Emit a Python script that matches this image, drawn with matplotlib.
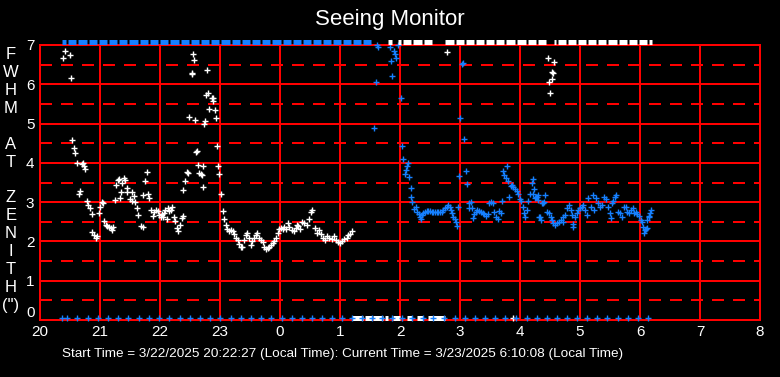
import matplotlib
matplotlib.use("Agg")
import matplotlib.pyplot as plt

plt.rcParams['font.family'] = ['Liberation Sans', 'DejaVu Sans']
plt.rcParams['lines.scale_dashes'] = False

# times are minutes after 20:00 local time, FWHM in arcsec
white_t = [23.3, 25.3, 30.3, 31.0, 32.3, 34.0, 35.3, 36.7, 39.0, 40.3, 41.7, 42.7, 44.0, 45.0,
           46.7, 48.3, 50.3, 51.7, 52.3, 54.3, 55.7, 57.3, 59.3, 60.3, 62.0, 63.3, 64.3, 65.7,
           66.7, 68.7, 71.0, 72.3, 72.7, 75.0, 76.0, 77.7, 79.0, 80.3, 81.3, 82.3, 84.0, 85.3,
           86.7, 87.3, 90.0, 91.7, 92.0, 94.0, 95.0, 96.7, 98.3, 101.0, 102.7, 103.3, 105.0,
           106.7, 107.7, 109.0, 111.0, 112.7, 113.7, 116.0, 117.7, 119.0, 120.7, 121.7, 122.7,
           124.0, 125.3, 126.7, 128.3, 129.3, 130.7, 132.3, 134.0, 135.0, 136.7, 138.3, 140.3,
           141.7, 142.7, 143.3, 145.3, 146.7, 148.3, 149.3, 151.7, 152.3, 153.3, 154.3, 155.3,
           156.3, 157.3, 158.3, 159.3, 161.0, 161.7, 162.7, 163.3, 164.3, 165.3, 166.0, 167.3,
           168.3, 169.3, 171.7, 172.7, 173.3, 175.3, 176.3, 177.3, 178.3, 179.3, 181.3, 182.7,
           184.3, 185.7, 187.3, 189.0, 191.0, 192.7, 194.3, 196.0, 197.7, 199.0, 200.7, 202.3,
           204.0, 205.7, 207.3, 209.0, 210.7, 212.3, 214.0, 215.7, 217.3, 219.0, 220.7, 222.7,
           224.3, 226.0, 227.7, 229.3, 231.0, 232.7, 234.3, 236.0, 237.7, 239.3, 241.0, 242.7,
           244.3, 246.0, 247.7, 249.3, 251.7, 254.0, 256.0, 257.3, 258.3, 260.0, 262.3, 264.3,
           266.7, 268.7, 271.0, 271.7, 275.0, 277.3, 279.3, 281.0, 283.3, 285.0, 287.3, 289.3,
           291.7, 294.0, 296.0, 297.7, 300.0, 302.3, 304.3, 306.7, 308.3, 310.0, 311.7,
           406.7, 508.3, 509.3, 510.3, 511.7, 512.3, 513.3, 514.3]
white_fwhm = [6.66, 6.84, 6.74, 6.15, 4.58, 4.37, 4.26, 3.99, 3.22, 3.29, 3.97, 4.00, 3.92, 3.84,
              3.04, 2.93, 2.84, 2.70, 2.25, 2.16, 2.08, 2.15, 2.72, 2.88, 3.01, 2.97, 2.53, 2.42,
              2.39, 2.36, 2.33, 2.29, 2.37, 3.05, 3.44, 3.56, 3.58, 3.10, 3.25, 3.49, 3.62, 3.56,
              3.35, 3.27, 3.07, 3.27, 3.03, 3.16, 3.01, 2.84, 2.67, 2.39, 2.37, 3.18, 3.55,
              3.76, 3.20, 3.10, 2.80, 2.65, 2.76, 2.80, 2.77, 2.67, 2.63, 2.70, 2.63,
              2.73, 2.80, 2.56, 2.84, 2.78, 2.80, 2.88, 2.63, 2.52, 2.33, 2.27, 2.43,
              2.60, 2.65, 3.31, 3.55, 3.78, 3.73, 5.18, 6.25, 6.30, 6.76, 6.63, 5.08,
              4.27, 4.31, 3.94, 3.73, 3.71, 3.68, 3.39, 3.91, 4.98, 5.06, 5.74, 6.36,
              5.79, 5.36, 5.64, 5.57, 5.64, 5.34, 5.13, 4.42, 3.91, 3.71, 3.22, 2.77,
              2.56, 2.42, 2.31, 2.27, 2.29, 2.27, 2.19, 2.10, 2.04, 1.93, 1.87, 1.85,
              2.04, 2.16, 2.21, 2.08, 1.91, 2.02, 2.10, 2.16, 2.22, 2.10, 2.04, 1.99,
              1.87, 1.81, 1.84, 1.87, 1.91, 1.97, 2.02, 2.10, 2.22, 2.31, 2.33, 2.32,
              2.36, 2.31, 2.48, 2.36, 2.29, 2.27, 2.33, 2.42, 2.39, 2.31, 2.50, 2.46,
              2.42, 2.56, 2.75, 2.80, 2.33, 2.21, 2.28, 2.18, 2.10, 2.04, 2.14, 2.10,
              2.05, 2.14, 2.04, 1.99, 1.97, 2.02, 2.05, 2.10, 2.16, 2.19, 2.27,
              6.81, 6.66, 6.05, 5.79, 6.13, 6.32, 6.29, 6.56]

blue_t = [334.3, 335.7, 336.7, 338.0, 350.3, 351.0, 352.3, 354.3, 355.3, 356.3, 357.7, 361.3,
          362.3, 363.3, 365.3, 366.3, 367.3, 368.3, 369.3, 370.7, 371.3, 372.3, 374.0, 376.0,
          377.3, 379.0, 380.0, 381.0, 382.0, 383.3, 385.0, 386.7, 388.3, 390.0, 391.7, 393.3,
          395.0, 396.7, 398.3, 400.0, 401.7, 403.3, 405.0, 406.7, 408.3, 410.0, 411.3, 412.3,
          413.3, 415.0, 416.0, 417.3, 418.3, 419.0, 420.3, 421.7, 423.3, 424.3, 426.0, 427.3,
          428.7, 429.3, 430.7, 431.7, 432.7, 434.0, 435.7, 437.3, 439.3, 441.0, 442.7, 444.3,
          446.0, 447.7, 449.3, 451.0, 452.7, 454.3, 456.0, 457.7, 459.3, 460.7, 461.7, 463.3,
          464.3, 465.7, 467.3, 468.3, 469.3, 470.7, 472.0, 473.3, 475.0, 476.7, 478.3, 480.0,
          481.0, 482.7, 484.0, 485.0, 487.3, 488.3, 490.0, 491.7, 492.7, 493.3, 494.0, 495.0,
          495.7, 497.3, 497.7, 498.3, 499.3, 500.0, 500.7, 501.7, 502.7, 504.0, 505.0, 507.3,
          509.3, 510.7, 512.0, 513.3, 514.7, 516.7, 518.7, 520.7, 522.7, 523.3, 525.3, 526.7,
          528.7, 530.7, 531.7, 532.7, 533.3, 535.3, 536.7, 538.3, 540.0, 541.7, 543.3, 545.0,
          546.7, 548.3, 550.7, 552.7, 554.3, 556.0, 558.3, 560.0, 561.7, 564.0, 566.0, 568.3,
          570.0, 570.7, 571.7, 573.3, 575.0, 576.0, 578.3, 580.0, 582.3, 584.0, 585.7, 587.3,
          589.3, 591.0, 592.7, 594.0, 596.0, 597.3, 599.3, 600.7, 601.7, 603.3, 604.3, 605.0,
          606.0, 606.7, 607.3, 609.0, 609.3, 610.0, 610.7]
blue_fwhm = [4.90, 6.07, 7.00, 6.94, 6.94, 6.59, 6.20, 6.85, 6.77, 6.66, 7.00, 5.64,
             4.42, 4.09, 3.72, 3.82, 3.92, 3.99, 3.63, 3.35, 3.12, 3.01, 2.82, 2.88,
             2.76, 2.70, 2.63, 2.57, 2.67, 2.72, 2.76, 2.77, 2.78, 2.77, 2.76, 2.76,
             2.76, 2.76, 2.76, 2.76, 2.76, 2.80, 2.84, 2.88, 2.92, 2.88, 2.80, 2.72,
             2.63, 2.57, 2.50, 2.39, 2.88, 3.67, 5.13, 6.51, 6.53, 4.62, 3.79, 3.46,
             2.84, 2.97, 3.01, 2.84, 2.59, 2.70, 2.76, 2.80, 2.78, 2.76, 2.73, 2.70,
             2.65, 2.70, 2.97, 3.01, 2.97, 2.76, 2.61, 2.57, 2.78, 2.73, 3.04, 3.80,
             3.69, 3.61, 3.92, 3.53, 3.14, 3.41, 3.44, 3.38, 3.33, 3.29, 3.22, 3.07,
             3.04, 2.88, 2.73, 2.61, 2.80, 3.04, 3.22, 3.49, 3.22, 3.58, 3.33, 3.10,
             3.14, 3.14, 3.18, 3.05, 2.61, 2.61, 2.55, 2.99, 2.97, 3.01, 3.18, 2.76,
             2.72, 2.61, 2.55, 2.48, 2.42, 2.46, 2.50, 2.55, 2.50, 2.61, 2.67, 2.84,
             2.93, 2.80, 2.67, 2.44, 2.37, 2.63, 2.73, 2.80, 2.84, 2.88, 2.94, 2.80,
             2.67, 3.10, 2.88, 3.18, 2.80, 3.10, 2.97, 2.88, 2.93, 3.12, 3.07, 2.88,
             2.72, 2.59, 2.99, 3.04, 3.12, 3.18, 2.76, 2.72, 2.63, 2.88, 2.88, 2.76,
             2.73, 2.80, 2.84, 2.73, 2.76, 2.70, 2.65, 2.55, 2.50, 2.37, 2.21, 2.29,
             2.31, 2.33, 2.55, 2.61, 2.65, 2.73, 2.80]

# readings pinned to the bottom of the scale (zero) and off the top of the scale
bottom_blue_t = [22, 27, 37, 48, 58, 68, 78, 88, 99, 109, 119, 129, 140, 150, 160, 170, 180,
                 191, 201, 211, 221, 231, 242, 252, 262, 272, 282, 292, 302, 312, 322, 332,
                 342, 352, 362, 372, 383, 393, 404, 415, 425, 435, 445, 455, 465, 476, 487,
                 497, 507, 517, 527, 537, 547, 557, 567, 578, 588, 598, 608]
bottom_white_spans = [(312, 323), (325, 332), (333, 343), (345, 348), (353, 360), (367, 372),
                      (377, 383), (388, 405)]
bottom_white_t = [473]
top_blue_spans = [(22, 333)]
top_white_spans = [(348, 352), (358, 392), (403, 508), (514, 612)]

hour_labels = ['20', '21', '22', '23', '0', '1', '2', '3', '4', '5', '6', '7', '8']
title = 'Seeing Monitor'
footer = ('Start Time = 3/22/2025 20:22:27 (Local Time): '
          'Current Time = 3/23/2025 6:10:08 (Local Time)')
ylabel_letters = ['F', 'W', 'H', 'M', '', 'A', 'T', '', 'Z', 'E', 'N', 'I', 'T', 'H', '(")']

BLUE = '#1680ff'
RED = '#ff0000'
TOP_Y = 7.07
BOT_Y = 0.04
GRID_LW = 1.1


def split_at(spans, cuts, gap=0.6):
    # break the flag bands wherever a bottom reading interrupts them
    starts, ends = [], []
    for a, b in spans:
        edges = [a] + [c for c in cuts if a < c < b] + [b]
        for i in range(len(edges) - 1):
            s = edges[i] + (gap if i > 0 else 0)
            e = edges[i + 1] - (gap if i + 1 < len(edges) - 1 else 0)
            if e > s:
                starts.append(s)
                ends.append(e)
    return starts, ends


fig = plt.figure(figsize=(7.8, 3.77), dpi=100, facecolor='black')
ax = fig.add_axes([40 / 780, 1 - 320 / 377, 720 / 780, 275 / 377])
ax.set_facecolor('black')
ax.set_xlim(0, 720)
ax.set_ylim(0, 7)

for sp in ax.spines.values():
    sp.set_color(RED)
    sp.set_linewidth(GRID_LW)
    sp.set_antialiased(False)

# grid: solid on the hours / whole units, dashed on the half units
for h in range(1, 12):
    ax.axvline(h * 60, color=RED, lw=GRID_LW, antialiased=False, zorder=1)
for v in range(1, 7):
    ax.axhline(v, color=RED, lw=GRID_LW, antialiased=False, zorder=1)
for v in range(7):
    ax.axhline(v + 0.5, color=RED, lw=GRID_LW, dashes=(7.92, 6.48), antialiased=False,
               zorder=1)

ax.set_xticks(range(0, 721, 60))
ax.set_xticklabels(hour_labels)
ax.set_yticks(range(8))
ax.tick_params(axis='x', length=0, colors='white', labelsize=11, pad=3.5)
ax.tick_params(axis='y', length=0, colors='white', labelsize=11, pad=4)
# the lowest y label sits a touch higher so it clears the first hour label
ax.get_yticklabels()[0].set_verticalalignment('bottom')

mk = dict(linestyle='none', marker='+', ms=5, mew=1.0, clip_on=False, zorder=3)
ax.plot(white_t, white_fwhm, color='white', **mk)
ax.plot(blue_t, blue_fwhm, color=BLUE, **mk)

s, e = split_at(top_blue_spans, bottom_blue_t)
ax.hlines([TOP_Y] * len(s), s, e, colors=BLUE, lw=3.6, clip_on=False, zorder=3)
s, e = split_at(top_white_spans, bottom_blue_t)
ax.hlines([TOP_Y] * len(s), s, e, colors='white', lw=3.6, clip_on=False, zorder=3)
s, e = split_at(bottom_white_spans, [])
ax.hlines([BOT_Y] * len(s), s, e, colors='white', lw=3.6, clip_on=False, zorder=3)
ax.plot(bottom_white_t, [BOT_Y] * len(bottom_white_t), color='white', **mk)
ax.plot(bottom_blue_t, [BOT_Y] * len(bottom_blue_t), color=BLUE, **mk)

fig.text(0.5, 1 - 20 / 377, title, color='white', fontsize=16, ha='center', va='center')
fig.text(62 / 780, 1 - 354 / 377, footer, color='white', fontsize=9.7, ha='left', va='center')
fig.text(11 / 780, 1 - 180 / 377, '\n'.join(ylabel_letters), color='white', fontsize=12,
         ha='center', va='center', multialignment='center', linespacing=1.24)

fig.savefig('out.png', dpi=100, facecolor='black')
